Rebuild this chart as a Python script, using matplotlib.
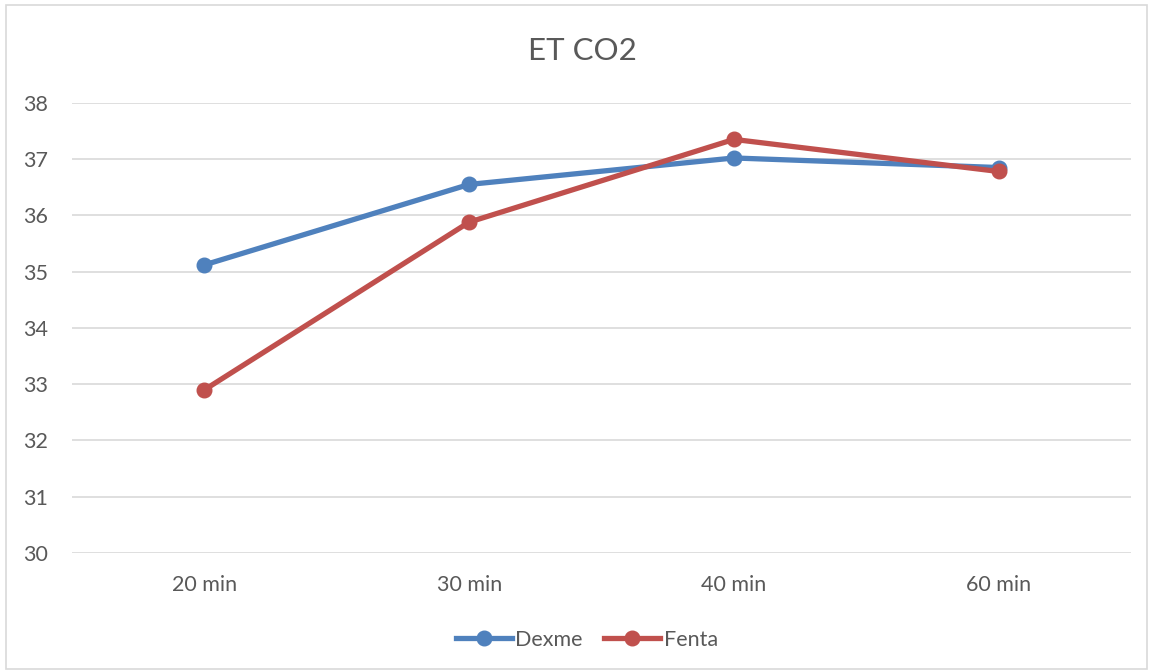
import numpy as np
import matplotlib.pyplot as plt
from matplotlib.patches import Rectangle

plt.rcParams['font.family'] = ['Lato', 'DejaVu Sans']

times = ['20 min', '30 min', '40 min', '60 min']
dexme = [35.12, 36.55, 37.02, 36.85]
fenta = [32.90, 35.88, 37.35, 36.78]

blue = '#4F81BD'
red = '#C0504D'
txt = '#595959'

fig = plt.figure(figsize=(11.54, 6.72), dpi=100)
ax = fig.add_axes([0.0624, 0.177, 0.9177, 0.670])

x = np.arange(len(times))
ax.plot(x, dexme, '-o', color=blue, lw=3.8, ms=10.5, label='Dexme', zorder=3)
ax.plot(x, fenta, '-o', color=red, lw=3.8, ms=10.5, label='Fenta', zorder=4)

ax.set_xlim(-0.5, 3.5)
ax.set_ylim(30, 38)
ax.set_yticks(range(30, 39))
ax.set_xticks(x)
ax.set_xticklabels(times)
ax.grid(axis='y', color='#D9D9D9', lw=1.2)
ax.set_axisbelow(True)
for s in ax.spines.values():
    s.set_visible(False)
ax.tick_params(length=0, labelsize=15.5, labelcolor=txt)
ax.tick_params(axis='y', pad=17)
ax.tick_params(axis='x', pad=16)

fig.text(0.505, 0.924, 'ET CO2', ha='center', va='center', fontsize=22.5, color=txt)

fig.legend(loc='center', bbox_to_anchor=(0.5087, 0.048), ncol=2, frameon=False,
           fontsize=15.5, labelcolor=txt, handlelength=2.6, handletextpad=0.15,
           columnspacing=1.0)

fig.patches.append(Rectangle((6/1154, 3/672), 1 - 13/1154, 1 - 8/672,
                             transform=fig.transFigure, fill=False,
                             edgecolor='#D9D9D9', lw=1.2))

fig.savefig('out.png', dpi=100, facecolor='white')
